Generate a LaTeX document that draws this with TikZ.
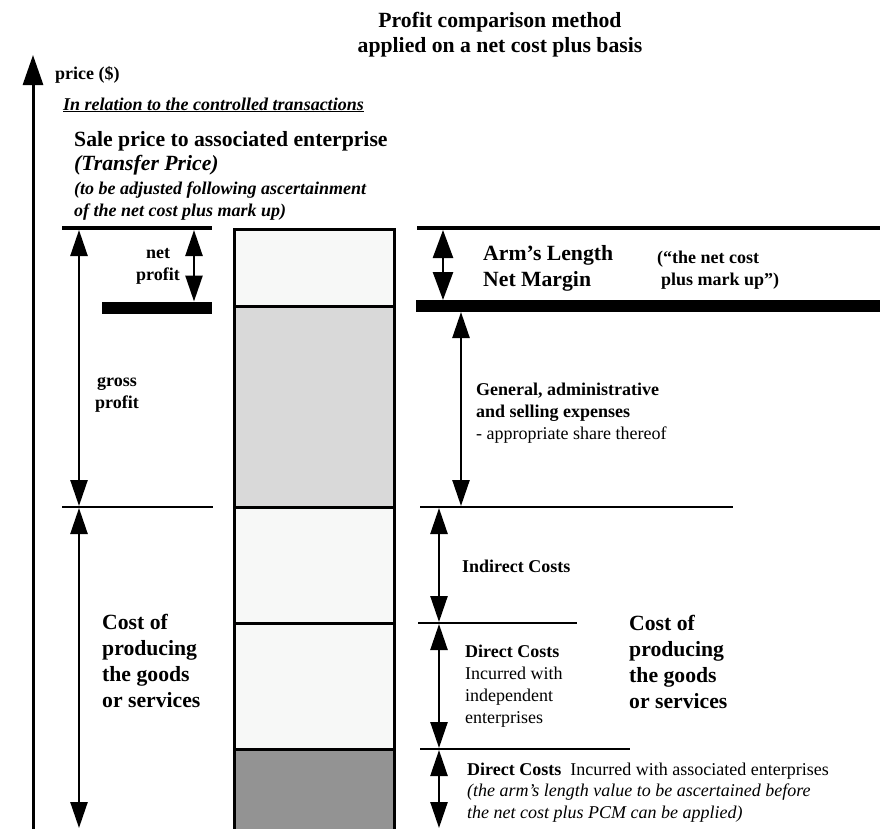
\documentclass[tikz,border=0pt]{standalone}
\usepackage{fontspec}
\setmainfont{Liberation Serif}
\usepackage{xcolor}
\usepackage{tikz}
\usetikzlibrary{arrows.meta}

\definecolor{boxlight}{HTML}{F7F8F7}
\definecolor{boxmid}{HTML}{D9D9D9}
\definecolor{boxdark}{HTML}{939393}

% multi-line labels sit on the baseline of their last line
\tikzset{
    txt/.style={font=\fontsize{18}{22}\selectfont\bfseries, anchor=base west, inner sep=0pt, align=left},
    bigtxt/.style={font=\fontsize{21.7}{26}\selectfont\bfseries, anchor=base west, inner sep=0pt, align=left},
    dim/.style={{Triangle[length=26pt,width=17pt]}-{Triangle[length=26pt,width=17pt]}, line width=2.5pt},
    dimwide/.style={{Triangle[length=28pt,width=20pt]}-{Triangle[length=28pt,width=20pt]}, line width=2.5pt},
    level/.style={line width=2.5pt},
    toplevel/.style={line width=4.5pt},
    bar/.style={line width=12pt}
}

\begin{document}
\begin{tikzpicture}[x=1pt, y=-1pt]
    \useasboundingbox (0,0) rectangle (880,828);

    % Title and price axis
    \node[bigtxt, anchor=base, align=center, font=\fontsize{21.7}{25}\selectfont\bfseries] (title) at (500,52)
        {Profit comparison method\\applied on a net cost plus basis};
    \coordinate (axisBot) at (33,840);
    \coordinate (axisTop) at (33,55);
    \draw[-{Triangle[length=30pt,width=20pt]}, line width=3pt] (axisBot) -- (axisTop);
    \node[txt] (price) at (55,79) {price (\$)};

    % Controlled transaction texts
    \node[txt] (rel) at (63,110) {\itshape\underline{In relation to the controlled transactions}};
    \node[bigtxt, font=\fontsize{21.7}{24}\selectfont\bfseries] (sale) at (74,170)
        {Sale price to associated enterprise\\\itshape (Transfer Price)};
    \node[txt] (adj) at (74,216) {\itshape (to be adjusted following ascertainment\\\itshape of the net cost plus mark up)};

    % Column of costs
    \foreach \top/\bot/\shade in {229/306/boxlight, 306/507/boxmid, 507/623/boxlight, 623/749/boxlight, 749/840/boxdark}
        \filldraw[fill=\shade, line width=3pt] (234,\top) rectangle (394,\bot);

    % Levels, left side
    \draw[toplevel] (62,228) -- (212,228);
    \draw[bar] (102,307.5) -- (212,307.5);
    \draw[level] (62,507) -- (213,507);

    % Levels, right side
    \draw[toplevel] (417,228) -- (880,228);
    \draw[bar] (416,306) -- (880,306);
    \draw[level] (420,507) -- (733,507);
    \draw[level] (418,623) -- (577,623);
    \draw[level] (420,749) -- (630,749);

    % Dimension arrows
    \foreach \n/\x/\a/\b in {net/194/230/301.5, gross/79/230/506, costL/79/508/828,
                             gen/461/312/506, ind/439/508/622, dir/439/624/748, asc/439/750/828} {
        \coordinate (\n-top) at (\x,\a);
        \coordinate (\n-bot) at (\x,\b);
        \draw[dim] (\n-top) -- (\n-bot);
    }
    \coordinate (arm-top) at (443,230);
    \coordinate (arm-bot) at (443,300);
    \draw[dimwide] (arm-top) -- (arm-bot);

    % Labels, left side
    \node[txt, anchor=base, align=center] (netp) at (158,280) {net\\profit};
    \node[txt, anchor=base, align=center] (grossp) at (117,408) {gross\\profit};
    \node[bigtxt] (costL) at (102,707) {Cost of\\producing\\the goods\\or services};

    % Labels, right side
    \node[bigtxt] (arm) at (483,286) {Arm’s Length\\Net Margin};
    \node[txt] (markup) at (657,285) {(“the net cost\\\hspace*{4pt}plus mark up”)};
    \node[txt] (gen) at (476,439) {General, administrative\\and selling expenses\\\mdseries - appropriate share thereof};
    \node[txt] (ind) at (462,572) {Indirect Costs};
    \node[txt, font=\fontsize{18}{21.7}\selectfont\bfseries] (dir) at (465,723)
        {Direct Costs\\\mdseries Incurred with\\\mdseries independent\\\mdseries enterprises};
    \node[bigtxt] (costR) at (629,708) {Cost of\\producing\\the goods\\or services};
    \node[txt, font=\fontsize{18}{21.5}\selectfont\bfseries] (asc) at (467,818)
        {Direct Costs\ \ \mdseries Incurred with associated enterprises\\\mdseries\itshape (the arm’s length value to be ascertained before\\\mdseries\itshape the net cost plus PCM can be applied)};
\end{tikzpicture}
\end{document}
